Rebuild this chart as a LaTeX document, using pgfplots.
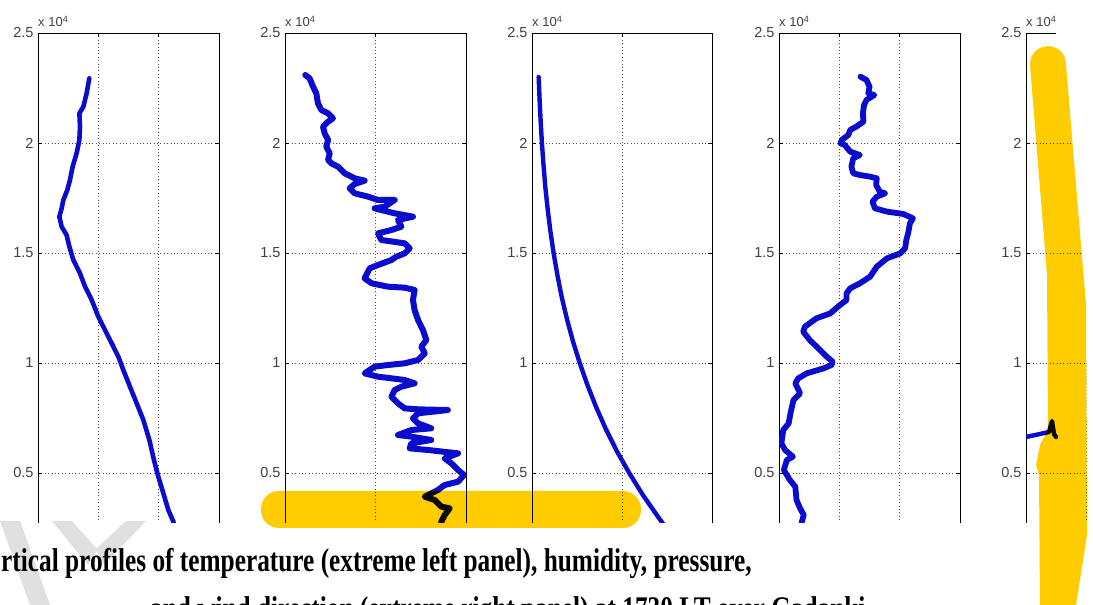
\documentclass[border=0pt]{standalone}
\usepackage{fontspec}
\setmainfont{Liberation Sans}
\newfontfamily\capfont{Liberation Serif}
\usepackage{pgfplots}
\pgfplotsset{compat=1.18}
\definecolor{prof}{RGB}{12,12,205}
\definecolor{hilite}{RGB}{255,204,0}
\definecolor{wmark}{RGB}{224,224,224}

\pgfplotsset{
  panel/.style={
    scale only axis, width=181pt, height=528pt,
    anchor=north west,
    ymin=1000, ymax=25000,
    ytick={5000,10000,15000,20000,25000},
    yticklabels={0.5,1,1.5,2,2.5},
    scaled y ticks=false,
    xticklabels={},
    grid=major,
    grid style={black!70, line width=0.8pt, dash pattern=on 0.9pt off 2.5pt},
    axis line style={black, line width=0.9pt},
    tick align=inside, major tick length=4pt,
    tick style={black, line width=0.8pt},
    yticklabel style={font=\fontsize{14.5}{16}\selectfont, text=black!75, xshift=-1pt},
    clip=true,
  },
  prof/.style={color=prof, line width=#1, line join=round, line cap=round},
}
\newcommand{\expo}[1]{\node[anchor=south west, inner sep=0, font=\fontsize{13}{14}\selectfont, text=black!75] at (#1pt,578pt) {x 10\textsuperscript{4}};}

\begin{document}
\begin{tikzpicture}
\useasboundingbox (0pt,0pt) rectangle (1093pt,605pt);
\clip (0pt,0pt) rectangle (1093pt,605pt);

% temperature
\begin{axis}[panel, at={(38pt,572pt)}, xmin=-100, xmax=50, xtick={-50,0}]
\addplot[prof=4.6pt] coordinates {
(-57.5,22939) (-59.7,22258) (-62.4,21651) (-65.7,21348) (-65.2,20742)
(-65.7,20136) (-68.0,19530) (-71.3,18924) (-73.5,18318) (-75.7,17864)
(-79.0,17409) (-80.4,17030) (-82.3,16651) (-80.4,16197) (-76.3,15818)
(-74.0,15288) (-70.7,14682) (-65.2,14075) (-61.0,13469) (-55.5,12863)
(-50.0,12106) (-44.5,11500) (-38.9,10894) (-33.4,10287) (-29.3,9681)
(-23.8,8924) (-18.2,8166) (-12.7,7409) (-7.7,6500) (-3.9,5590)
(-0.3,4833) (3.9,4075) (8.0,3318) (12.2,2788) (13.2,2400)};
\end{axis}
\expo{38}

% humidity
\begin{axis}[panel, at={(285pt,572pt)}, xmin=0, xmax=100, xtick={50}]
\addplot[prof=6pt] coordinates {
(11.2,23091) (13.6,22939) (15.5,22561) (17.3,22258) (18.2,21803)
(20.1,21500) (23.8,21348) (26.5,21122) (23.8,20970) (21.0,20742)
(21.9,20439) (23.8,20136) (22.8,19833) (24.7,19530) (23.8,19227)
(25.6,19076) (29.3,18924) (33.0,18621) (38.5,18394) (44.0,18288)
(38.5,18136) (35.7,17939) (38.5,17712) (45.9,17560) (51.4,17409)
(60.6,17409) (55.1,17106) (49.5,17030) (60.6,16803) (70.7,16651)
(62.4,16500) (64.3,16197) (58.8,16045) (51.4,15894) (53.2,15591)
(66.1,15439) (68.9,15212) (66.1,14984) (61.5,14833) (58.8,14682)
(51.4,14454) (46.8,14303) (44.0,13848) (47.9,13621) (56.9,13469)
(66.1,13424) (71.6,13318) (70.7,12863) (71.6,12409) (73.5,11954)
(76.2,11500) (78.1,11045) (75.3,10742) (77.2,10439) (73.5,10136)
(66.1,9984) (56.9,9909) (49.5,9833) (44.0,9530) (51.4,9378)
(58.8,9303) (66.1,9227) (71.6,9075) (64.3,8924) (60.6,8772)
(58.8,8469) (62.4,8166) (66.1,7939) (73.5,7893) (90.0,7863)
(73.5,7712) (70.7,7484) (73.5,7257) (80.8,7030) (69.8,6954)
(62.4,6727) (69.8,6651) (80.8,6500) (69.8,6348) (68.9,6121)
(79.0,6045) (95.6,5893) (88.2,5666) (91.9,5439) (95.6,5136)
(98.9,4909) (95.6,4606) (88.2,4454) (84.5,4227) (77.2,3924)
(82.7,3772) (86.4,3469) (91.0,3394) (88.2,3091) (86.4,2788) (86.0,2500)};
\end{axis}
\expo{285}

% pressure
\begin{axis}[panel, width=180pt, at={(532pt,572pt)}, xmin=0, xmax=1000, xtick={500}]
\addplot[prof=4.4pt] coordinates {
(37,23000) (42,22000) (48,21000) (55,20000) (64,19000) (74,18000)
(87,17000) (102,16000) (120,15000) (141,14000) (165,13000) (194,12000)
(227,11000) (265,10000) (308,9000) (356,8000) (410,7000) (471,6000)
(540,5000) (616,4000) (701,3000) (725,2730) (760,2300)};
\end{axis}
\expo{532}

% wind speed
\begin{axis}[panel, at={(779pt,572pt)}, xmin=0, xmax=30, xtick={10,20}]
\addplot[prof=5.8pt] coordinates {
(13.5,23015) (14.5,22864) (15.0,22561) (14.8,22258) (15.8,22182)
(14.5,21955) (14.1,21727) (13.9,21348) (14.0,20970) (12.8,20742)
(11.8,20591) (11.5,20364) (10.4,20136) (10.2,19985) (10.9,19909)
(11.8,19606) (13.4,19454) (12.3,19303) (12.0,18924) (12.3,18621)
(13.4,18545) (15.1,18469) (16.2,18394) (16.1,18091) (16.7,17788)
(17.6,17712) (16.2,17560) (15.5,17333) (15.9,17030) (17.9,16879)
(20.6,16773) (22.2,16576) (21.7,16348) (21.4,15894) (21.1,15591)
(20.9,15212) (20.1,14984) (17.9,14757) (16.2,14379) (15.1,13924)
(13.4,13621) (11.8,13394) (11.2,13166) (11.2,12863) (10.1,12636)
(8.5,12257) (6.2,12030) (4.3,11651) (4.0,11424) (5.1,11045)
(6.8,10590) (7.9,10287) (8.9,10060) (8.7,9909) (7.4,9757)
(4.6,9530) (3.2,9303) (2.7,9075) (3.5,8621) (2.4,8318)
(1.9,7712) (1.6,7257) (0.7,6954) (0.4,6348) (1.0,6045)
(2.3,5742) (1.3,5591) (0.8,5136) (1.8,4681) (2.7,4378)
(2.9,3772) (3.5,3394) (4.1,3091) (3.8,2788) (3.6,2500)};
\end{axis}
\expo{779}

% wind direction
\begin{axis}[panel, at={(1026pt,572pt)}, xmin=0, xmax=360, xtick={120,240}]
\addplot[prof=4.4pt] coordinates {
(-10,6590) (0,6636) (27.8,6773) (45.7,6864) (51.7,7364) (55.7,6773) (59.7,6636)};
\end{axis}
\expo{1026}

\begin{scope}[x=1pt,y=1pt]
% screenshot cut below the panels
\fill[white] (0,-1) rectangle (1093,81.5);
% masked part right of the last panel's highlight
\fill[white] (1056,606) -- (1094,606) -- (1094,-1) -- (1076,-1) -- (1087,70)
  -- (1086,300) -- (1066,540) -- (1056,556) -- cycle;

% watermark strokes
\fill[wmark] (0,84) -- (20,84) -- (50,0) -- (30,0) -- cycle;
\fill[wmark] (52,84) -- (72,84) -- (98,55) -- (88,40) -- cycle;
\fill[wmark] (126,84) -- (146,84) -- (104,40) -- (96,56) -- cycle;

% highlighter
\begin{scope}[blend mode=multiply]
\fill[hilite, rounded corners=18pt] (261,77) rectangle (641,114);
\fill[hilite] (1030,540) .. controls (1030,565) and (1066,565) .. (1066,540)
  -- (1086,300) -- (1087,70) -- (1076,0) -- (1040,0) -- (1039,130)
  -- (1036,140) -- (1040,160) -- (1048,175) -- (1047,330) -- cycle;
\end{scope}

% caption
\node[anchor=base west, inner sep=0] at (1,33)
  {\scalebox{0.767}[1]{\capfont\bfseries\fontsize{33}{40}\selectfont rtical profiles of temperature (extreme left panel), humidity, pressure,}};
\node[anchor=base west, inner sep=0] at (150,-15)
  {\scalebox{0.767}[1]{\capfont\bfseries\fontsize{33}{40}\selectfont and wind direction (extreme right panel) at 1730 LT over Gadanki}};
\end{scope}
\end{tikzpicture}
\end{document}
